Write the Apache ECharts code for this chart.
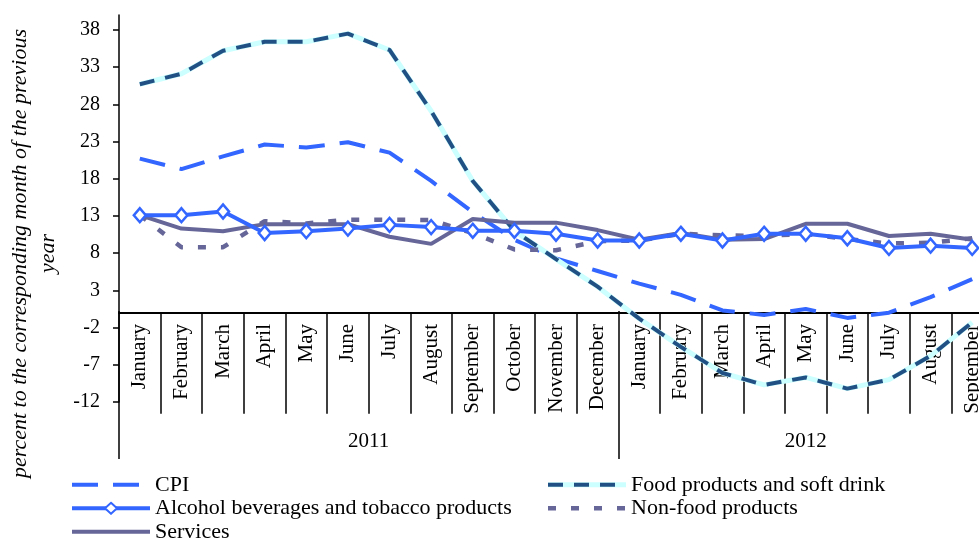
<!DOCTYPE html>
<html>
<head>
<meta charset="utf-8">
<script src="https://cdn.jsdelivr.net/npm/echarts@6/dist/echarts.min.js"></script>
<style>
html, body { margin: 0; padding: 0; background: #fff; }
#chart { width: 979px; height: 540px; }
</style>
</head>
<body>
<div id="chart"></div>
<script>
const months2011 = ['January','February','March','April','May','June','July','August','September','October','November','December'];
const months2012 = ['January','February','March','April','May','June','July','August','September'];
const years = ['2011', '2012'];
const yTickValues = [-12, -7, -2, 3, 8, 13, 18, 23, 28, 33, 38];

const cpi      = [20.7, 19.3, 21.0, 22.6, 22.2, 22.9, 21.5, 17.7, 13.5, 9.8, 7.3, 5.6, 3.9, 2.4, 0.3, -0.3, 0.5, -0.7, 0.0, 2.1, 4.5];
const food     = [30.7, 32.1, 35.2, 36.4, 36.4, 37.5, 35.3, 27.1, 17.7, 11.0, 7.2, 3.5, -0.8, -4.6, -8.1, -9.7, -8.7, -10.2, -9.0, -5.8, -1.3];
const alcohol  = [13.1, 13.1, 13.6, 10.7, 10.95, 11.3, 11.8, 11.5, 11.0, 11.0, 10.6, 9.7, 9.7, 10.6, 9.7, 10.6, 10.6, 10.0, 8.7, 9.0, 8.7];
const nonFood  = [13.1, 8.8, 8.8, 12.3, 12.0, 12.5, 12.5, 12.45, 10.7, 8.5, 8.4, 9.6, 9.7, 10.6, 10.4, 10.3, 10.6, 9.9, 9.3, 9.4, 10.0];
const services = [13.1, 11.3, 10.95, 11.9, 11.9, 11.9, 10.2, 9.25, 12.6, 12.1, 12.1, 11.1, 9.8, 10.7, 9.8, 9.9, 11.95, 11.95, 10.3, 10.6, 9.8];

const names = {
  cpi: 'CPI',
  food: 'Food products and soft drink',
  alcohol: 'Alcohol beverages and tobacco products',
  nonFood: 'Non-food products',
  services: 'Services'
};

const categories = months2011.concat(months2012);
const yearBounds = [0, months2011.length, categories.length];
const yearMids = [(yearBounds[0] + yearBounds[1]) / 2, (yearBounds[1] + yearBounds[2]) / 2];

const FONT = 'Liberation Serif';
const BLUE = '#3366ff';
const PURPLE = '#666699';
const CYAN = '#ccffff';
const DARKBLUE = '#215184';

const ICON_W = 78, ICON_H = 14;
function svgIcon(inner) {
  return 'image://data:image/svg+xml;charset=utf-8,' + encodeURIComponent(
    '<svg xmlns="http://www.w3.org/2000/svg" width="' + ICON_W + '" height="' + ICON_H + '" viewBox="0 0 ' + ICON_W + ' ' + ICON_H + '">' + inner + '</svg>');
}
function svgLine(color, width, dash) {
  return '<line x1="0" y1="7" x2="' + ICON_W + '" y2="7" stroke="' + color + '" stroke-width="' + width + '"' +
    (dash ? ' stroke-dasharray="' + dash + '"' : '') + '/>';
}
const icons = {
  cpi: svgIcon(svgLine(BLUE, 4, '26 15')),
  food: svgIcon(svgLine(CYAN, 5) + svgLine(DARKBLUE, 4, '15 11')),
  alcohol: svgIcon(svgLine(BLUE, 4) + '<polygon points="39,1.5 45,7 39,12.5 33,7" fill="#fff" stroke="' + BLUE + '" stroke-width="2"/>'),
  nonFood: svgIcon(svgLine(PURPLE, 4.5, '8 15')),
  services: svgIcon(svgLine(PURPLE, 4))
};

const chart = echarts.init(document.getElementById('chart'), null, { renderer: 'canvas' });

const legendCommon = {
  orient: 'vertical',
  top: 473,
  height: 120,
  padding: 0,
  itemWidth: ICON_W,
  itemHeight: ICON_H,
  itemGap: 0,
  selectedMode: false,
  textStyle: { fontFamily: FONT, fontSize: 22, color: '#000', lineHeight: 23.5 }
};

chart.setOption({
  animation: false,
  backgroundColor: '#fff',
  grid: { left: 119, right: -14, top: 15, bottom: 138, outerBoundsMode: 'none', containLabel: false },
  legend: [
    Object.assign({}, legendCommon, { left: 72, data: [
      { name: names.cpi, icon: icons.cpi },
      { name: names.alcohol, icon: icons.alcohol },
      { name: names.services, icon: icons.services }
    ] }),
    Object.assign({}, legendCommon, { left: 548, data: [
      { name: names.food, icon: icons.food },
      { name: names.nonFood, icon: icons.nonFood }
    ] })
  ],
  xAxis: [
    {
      type: 'category',
      data: categories,
      boundaryGap: true,
      axisLine: { onZero: true, lineStyle: { color: '#000', width: 2 } },
      axisTick: { show: true, interval: 0, length: 101, lineStyle: { color: '#000', width: 1.5 } },
      axisLabel: { interval: 0, rotate: 90, margin: -78, fontFamily: FONT, fontSize: 21, color: '#000' },
      splitLine: { show: false }
    },
    {
      type: 'value',
      min: 0,
      max: categories.length,
      position: 'bottom',
      offset: 57,
      axisLine: { show: false, onZero: false },
      axisTick: { show: true, inside: true, length: 148, customValues: yearBounds, lineStyle: { color: '#000', width: 1.5 } },
      axisLabel: {
        inside: true, margin: 7, customValues: yearMids,
        fontFamily: FONT, fontSize: 21, color: '#000',
        formatter: function (v) { const i = yearMids.indexOf(v); return i >= 0 ? years[i] : ''; }
      },
      splitLine: { show: false }
    }
  ],
  yAxis: {
    type: 'value',
    min: -12,
    max: 40,
    name: 'percent to the corresponding month of the previous\nyear',
    nameLocation: 'middle',
    nameRotate: 90,
    nameGap: 57,
    nameMoveOverlap: false,
    nameTextStyle: { fontFamily: FONT, fontSize: 22, fontStyle: 'italic', color: '#000', lineHeight: 28, padding: [0, 90, 0, 0] },
    axisLine: { show: true, onZero: false, lineStyle: { color: '#000', width: 1.5 } },
    axisTick: { show: true, length: 6, customValues: yTickValues, lineStyle: { color: '#000', width: 1.5 } },
    axisLabel: { customValues: yTickValues, margin: 19, fontFamily: FONT, fontSize: 20, color: '#000' },
    splitLine: { show: false }
  },
  series: [
    {
      name: names.cpi, type: 'line', data: cpi, symbol: 'none',
      lineStyle: { color: BLUE, width: 4, type: [26, 15] }, itemStyle: { color: BLUE }
    },
    {
      name: names.food, type: 'line', data: food, symbol: 'none',
      lineStyle: { color: CYAN, width: 5 }, itemStyle: { color: CYAN }
    },
    {
      name: names.food, type: 'line', data: food, symbol: 'none',
      lineStyle: { color: DARKBLUE, width: 4, type: [15, 11] }, itemStyle: { color: DARKBLUE }
    },
    {
      name: names.nonFood, type: 'line', data: nonFood, symbol: 'none',
      lineStyle: { color: PURPLE, width: 4.5, type: [8, 15] }, itemStyle: { color: PURPLE }
    },
    {
      name: names.services, type: 'line', data: services, symbol: 'none',
      lineStyle: { color: PURPLE, width: 4 }, itemStyle: { color: PURPLE }
    },
    {
      name: names.alcohol, type: 'line', data: alcohol, symbol: 'diamond', symbolSize: [12, 14], showSymbol: true,
      lineStyle: { color: BLUE, width: 4 },
      itemStyle: { color: '#fff', borderColor: BLUE, borderWidth: 2.5 }
    }
  ]
});
</script>
</body>
</html>
